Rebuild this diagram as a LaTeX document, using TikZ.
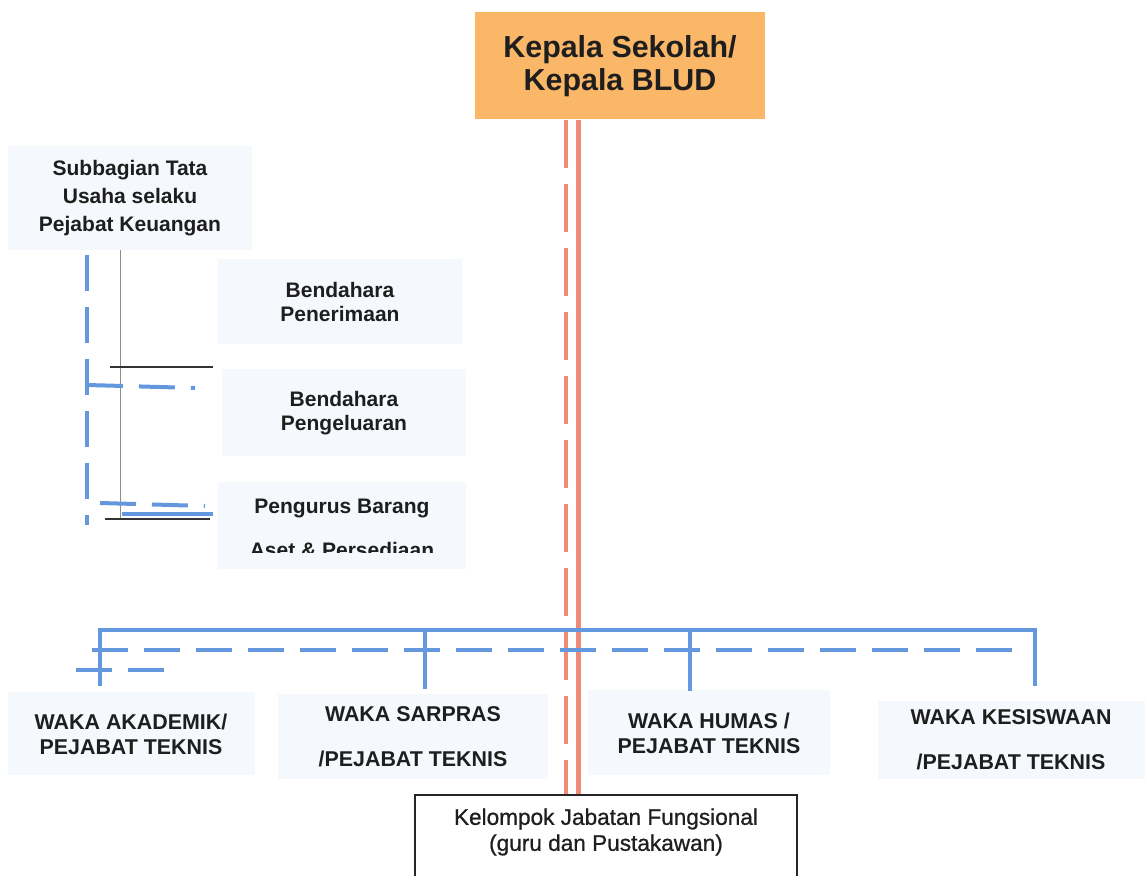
\documentclass[tikz,border=0pt]{standalone}
\usepackage{fontspec}
\setmainfont{Liberation Sans}
\usepackage{tikz}
\usetikzlibrary{positioning}
\usetikzlibrary{calc}
\definecolor{myorange}{RGB}{250,183,104}
\definecolor{mypale}{RGB}{245,248,252}
\definecolor{myblue}{RGB}{100,152,222}
\definecolor{myred}{RGB}{240,138,118}
\definecolor{mytext}{RGB}{30,30,30}
\newcommand\myfont[2]{\fontsize{#1}{#2}\selectfont}

\begin{document}
\begin{tikzpicture}[x=0.5pt, y=-0.5pt,
orgbox/.style={
  rectangle,
  fill=mypale,
  text=mytext,
  inner sep=0pt,
  align=center,
  font=\bfseries\myfont{10.5}{12}},
kepalabox/.style={
  orgbox,
  fill=myorange,
  font=\bfseries\myfont{15.2}{16.5}},
wakabox/.style={
  orgbox,
  font=\bfseries\myfont{10.7}{12.5}},
fungsibox/.style={
  orgbox,
  fill=white,
  draw=black!85,
  line width=0.6pt},
bluesolid/.style={draw=myblue, line width=2pt},
bluedash/.style={draw=myblue, line width=2pt, dash pattern=on 18pt off 8pt},
redsolid/.style={draw=myred, line width=2.5pt},
reddash/.style={draw=myred, line width=1.6pt, dash pattern=on 24pt off 8pt},
thinline/.style={draw=black!80, line width=0.6pt}
]
\clip (0,0) rectangle (1147,876);
\fill[white] (0,0) rectangle (1147,876);

% top
\node[kepalabox, minimum width=145pt, minimum height=53.5pt] (kepala) at (620,66)
  {Kepala Sekolah/\\Kepala BLUD};

% keuangan
\node[orgbox, minimum width=122pt, minimum height=52pt, font=\bfseries\myfont{10.5}{14}] (subbag) at (130,198)
  {Subbagian Tata\\Usaha selaku\\Pejabat Keuangan};
\node[orgbox, minimum width=122pt, minimum height=42.5pt] (terima) at (340,302)
  {Bendahara\\Penerimaan};
\node[orgbox, minimum width=122pt, minimum height=43.5pt] (keluar) at (344,413)
  {Bendahara\\Pengeluaran};
\node[orgbox, minimum width=124pt, minimum height=43.5pt] (barang) at (342,526) {};
\begin{scope}
\clip (200,480) rectangle (480,553);
\node[orgbox, fill=none] (barangtext) at (342,528)
  {Pengurus Barang\\[10pt]Aset \& Persediaan};
\end{scope}

% waka
\node[wakabox, minimum width=123.5pt, minimum height=41.5pt] (akademik) at (131,734)
  {WAKA AKADEMIK/\\PEJABAT TEKNIS};
\node[wakabox, minimum width=135pt, minimum height=42.5pt] (sarpras) at (413,737)
  {WAKA SARPRAS\\[10pt]/PEJABAT TEKNIS};
\node[wakabox, minimum width=121pt, minimum height=42.5pt] (humas) at (709,733)
  {WAKA HUMAS /\\PEJABAT TEKNIS};
\node[wakabox, minimum width=133.5pt, minimum height=39pt] (kesiswaan) at (1011,740)
  {WAKA KESISWAAN\\[10pt]/PEJABAT TEKNIS};

% fungsional
\node[fungsibox, minimum width=191pt, minimum height=45pt] (fungsi) at (606,840) {};
\node[orgbox, fill=none, font=\addfontfeature{FakeBold=0.8}\myfont{11.3}{13}] (fungsitext) at (606,832)
  {Kelompok Jabatan Fungsional\\(guru dan Pustakawan)};

% garis komando
\coordinate (redA) at ([xshift=-21pt]kepala.south);
\coordinate (redB) at ([xshift=-27pt]kepala.south);
\draw[redsolid] (redA) -- (redA |- fungsi.north);
\draw[reddash] (redB) -- (redB |- fungsi.north);

% keuangan lines
\coordinate (kv) at (87,255);
\coordinate (gv) at (120,250);
\draw[bluedash] (kv) -- (87,525);
\draw[draw=black!45, line width=0.4pt] (gv) -- (120,518);
\draw[thinline] (110,367) -- (213,367);
\draw[bluedash] (87,385) -- (195,388);
\draw[bluedash] (100,503) -- (205,506);
\draw[bluesolid] (122,514) -- (213,514);
\draw[thinline] (105,519) -- (210,519);

% waka lines
\coordinate (barL) at (100,630);
\coordinate (barR) at (1035,630);
\draw[bluesolid] (100,686) -- (barL) -- (barR) -- (1035,686);
\draw[bluesolid] (425,630) -- (425,689);
\draw[bluesolid] (690,630) -- (690,691);
\draw[bluedash] (92,650) -- (1027,650);
\draw[bluedash] (76,670) -- (170,670);
\end{tikzpicture}
\end{document}
